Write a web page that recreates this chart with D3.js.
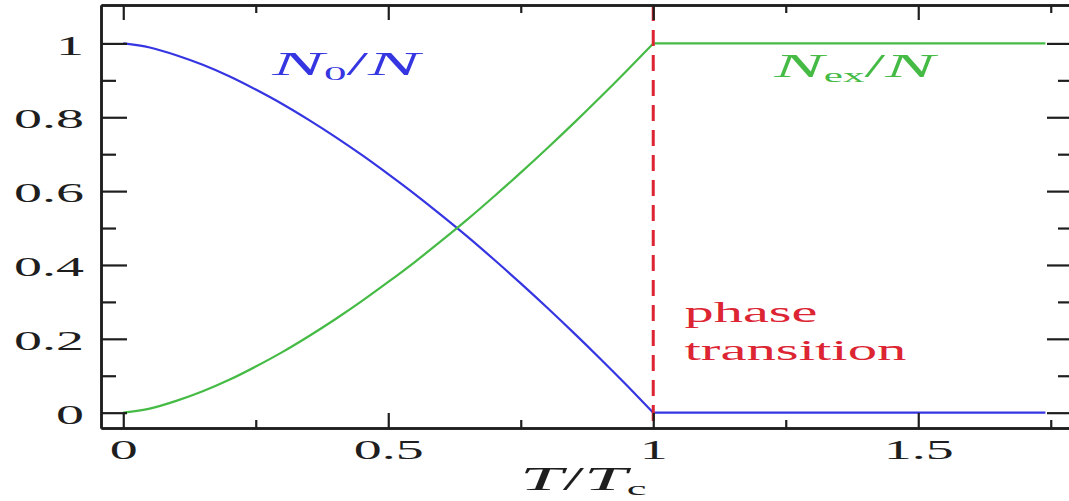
<!DOCTYPE html>
<html>
<head>
<meta charset="utf-8">
<script src="https://cdn.jsdelivr.net/npm/d3@7/dist/d3.min.js"></script>
<style>
  html, body { margin: 0; padding: 0; background: #fff; overflow: hidden; }
  svg { display: block; }
</style>
</head>
<body>
<svg id="bec" width="1069" height="501"></svg>
<script>
// values
const tRatio     = [0, 0.05, 0.1, 0.15, 0.2, 0.25, 0.3, 0.35, 0.4, 0.45, 0.5, 0.55, 0.6, 0.65, 0.7, 0.75, 0.8, 0.85, 0.9, 0.95, 1, 1.74];
const condensate = [1, 0.989, 0.968, 0.942, 0.911, 0.875, 0.836, 0.793, 0.747, 0.698, 0.646, 0.592, 0.535, 0.476, 0.414, 0.350, 0.284, 0.216, 0.146, 0.074, 0, 0];
const excited    = [0, 0.011, 0.032, 0.058, 0.089, 0.125, 0.164, 0.207, 0.253, 0.302, 0.354, 0.408, 0.465, 0.524, 0.586, 0.650, 0.716, 0.784, 0.854, 0.926, 1, 1];
const transitionAt = 1;

const xMajor = [0, 0.5, 1, 1.5];
const xMinor = [0.25, 0.75, 1.25, 1.75];
const yMajor = [0, 0.2, 0.4, 0.6, 0.8, 1];
const yMinor = [0.1, 0.3, 0.5, 0.7, 0.9];

const serif = '"Liberation Serif", "DejaVu Serif", "Times New Roman", serif';
const blue = '#3535e2';
const green = '#45bb45';
const red = '#dc2432';
const ink = '#1e1e1e';
const stretch = 2; // the whole figure is squashed wide

const svg = d3.select('svg#bec');
const frame = {left: 101, right: 1073, top: 5, bottom: 428};

const x = d3.scaleLinear().domain([-0.042, 1.792]).range([frame.left, frame.right]);
const y = d3.scaleLinear().domain([-0.0415, 1.104]).range([frame.bottom, frame.top]);

const points = tRatio.map((t, i) => ({t: t, n0: condensate[i], nex: excited[i]}));

// curves: smooth below Tc, straight after (keeps the kink)
const pieces = [points.filter(p => p.t <= transitionAt), points.filter(p => p.t >= transitionAt)];
const series = [
  {key: 'n0', color: blue},
  {key: 'nex', color: green}
];

const plot = svg.append('g').attr('class', 'plot');
series.forEach(s => {
  const line = d3.line()
      .x(d => x(d.t))
      .y(d => y(d[s.key]));
  pieces.forEach((piece, i) => {
    plot.append('path')
        .attr('d', line.curve(i === 0 ? d3.curveMonotoneX : d3.curveLinear)(piece))
        .attr('fill', 'none')
        .attr('stroke', s.color)
        .attr('stroke-width', 2.2);
  });
});

plot.append('line')
    .attr('x1', x(transitionAt)).attr('x2', x(transitionAt))
    .attr('y1', frame.top).attr('y2', frame.bottom)
    .attr('stroke', red)
    .attr('stroke-width', 3)
    .attr('stroke-dasharray', '16,9');

// axes: all ticks point inwards
function styleAxis(g) {
  g.attr('font-family', serif).attr('font-size', 28);
  g.select('.domain').attr('stroke', ink).attr('stroke-width', 2.5);
  g.selectAll('.tick line').attr('stroke', ink).attr('stroke-width', 2.2);
  g.selectAll('.tick text').attr('fill', ink);
}

function minorAxis(axis, size) {
  return axis.tickSize(-size).tickSizeOuter(0).tickFormat('');
}

const bottom = svg.append('g')
    .attr('transform', 'translate(0,' + frame.bottom + ')')
    .call(d3.axisBottom(x).tickValues(xMajor).tickSize(-15).tickSizeOuter(0).tickPadding(11).tickFormat(d => String(d)))
    .call(styleAxis);
bottom.selectAll('.tick text').attr('transform', 'scale(' + stretch + ',1)');

svg.append('g')
    .attr('transform', 'translate(0,' + frame.bottom + ')')
    .call(minorAxis(d3.axisBottom(x).tickValues(xMinor), 8))
    .call(styleAxis);

svg.append('g')
    .attr('transform', 'translate(0,' + frame.top + ')')
    .call(d3.axisTop(x).tickValues(xMajor).tickSize(-15).tickSizeOuter(0).tickFormat(''))
    .call(styleAxis);
svg.append('g')
    .attr('transform', 'translate(0,' + frame.top + ')')
    .call(minorAxis(d3.axisTop(x).tickValues(xMinor), 8))
    .call(styleAxis);

const left = svg.append('g')
    .attr('transform', 'translate(' + frame.left + ',0)')
    .call(d3.axisLeft(y).tickValues(yMajor).tickSize(-26).tickSizeOuter(0).tickFormat(d => String(d)))
    .call(styleAxis);
left.selectAll('.tick text')
    .attr('x', -17 / stretch)
    .attr('dy', '0.38em')
    .attr('transform', 'scale(' + stretch + ',1)');

svg.append('g')
    .attr('transform', 'translate(' + frame.left + ',0)')
    .call(minorAxis(d3.axisLeft(y).tickValues(yMinor), 15))
    .call(styleAxis);

svg.append('g')
    .attr('transform', 'translate(' + frame.right + ',0)')
    .call(d3.axisRight(y).tickValues(yMajor).tickSize(-26).tickSizeOuter(0).tickFormat(''))
    .call(styleAxis);
svg.append('g')
    .attr('transform', 'translate(' + frame.right + ',0)')
    .call(minorAxis(d3.axisRight(y).tickValues(yMinor), 15))
    .call(styleAxis);

// math-ish labels, widened to the width they have in the picture
function fitText(parts, o) {
  const text = svg.append('text')
      .attr('font-family', serif)
      .attr('font-size', o.size)
      .attr('fill', o.color);
  parts.forEach(p => {
    text.append('tspan')
        .attr('font-style', p.italic ? 'italic' : 'normal')
        .attr('font-size', p.sub ? o.size * 0.58 : o.size)
        .attr('dy', p.dy ? p.dy * o.size : 0)
        .text(p.text);
  });
  const b = text.node().getBBox();
  const sx = o.width / b.width;
  text.attr('transform', 'translate(' + (o.x - b.x * sx) + ',' + o.y + ') scale(' + sx + ',1)');
}

fitText([
  {text: 'N', italic: true},
  {text: '0', sub: true, dy: 0.14},
  {text: '/', dy: -0.14},
  {text: 'N', italic: true}
], {x: x(0.277), y: y(0.914), size: 34, width: 155, color: blue});

fitText([
  {text: 'N', italic: true},
  {text: 'ex', sub: true, dy: 0.14},
  {text: '/', dy: -0.14},
  {text: 'N', italic: true}
], {x: x(1.224), y: y(0.909), size: 34, width: 168, color: green});

fitText([{text: 'phase'}], {x: x(1.059), y: y(0.2455), size: 29, width: 133, color: red});
fitText([{text: 'transition'}], {x: x(1.059), y: y(0.143), size: 29, width: 223, color: red});

fitText([
  {text: 'T', italic: true},
  {text: '/'},
  {text: 'T', italic: true},
  {text: 'c', sub: true, dy: 0.16}
], {x: 520, y: 490, size: 34, width: 127, color: ink});
</script>
</body>
</html>
